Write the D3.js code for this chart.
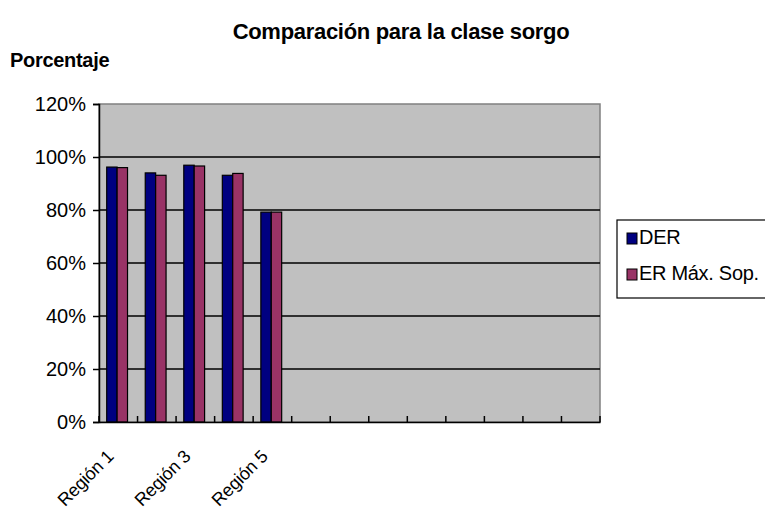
<!DOCTYPE html>
<html>
<head>
<meta charset="utf-8">
<script src="https://cdn.jsdelivr.net/npm/d3@7"></script>
<style>
  body { margin: 0; background: #fff; }
  svg { display: block; font-family: Arial, "Liberation Sans", sans-serif; }
</style>
</head>
<body>
<div id="chart"></div>
<script>
// categories (13 slots on the axis, only the first 5 have data)
const categories = ['Región 1', 'Región 2', 'Región 3', 'Región 4', 'Región 5',
  'c6', 'c7', 'c8', 'c9', 'c10', 'c11', 'c12', 'c13'];
const labelsShown = ['Región 1', 'Región 3', 'Región 5'];
const seriesNames = ['DER', 'ER Máx. Sop.'];
const derValues = [0.962, 0.940, 0.969, 0.931, 0.792];
const erValues = [0.960, 0.931, 0.966, 0.938, 0.792];
const yTicks = [0, 0.2, 0.4, 0.6, 0.8, 1.0, 1.2];
const colors = ['#000080', '#993366'];

const width = 765;
const height = 514;
const margin = { top: 104, right: 165, bottom: 92, left: 99 };
const innerW = width - margin.left - margin.right;
const innerH = height - margin.top - margin.bottom;

const svg = d3.select('#chart').append('svg')
  .attr('width', width)
  .attr('height', height);

const x = d3.scaleBand()
  .domain(categories)
  .range([0, innerW])
  .paddingInner(0)
  .paddingOuter(0);

const x1 = d3.scaleBand()
  .domain(seriesNames)
  .range([x.bandwidth() * 0.2, x.bandwidth() * 0.74]);

const y = d3.scaleLinear()
  .domain([0, 1.2])
  .range([innerH, 0]);

const g = svg.append('g')
  .attr('transform', `translate(${margin.left},${margin.top})`);

// plot background
g.append('rect')
  .attr('width', innerW)
  .attr('height', innerH)
  .attr('fill', '#c0c0c0')
  .attr('stroke', '#808080')
  .attr('stroke-width', 1.5);

// gridlines
g.append('g')
  .selectAll('line')
  .data(yTicks.filter(d => d > 0 && d < 1.2))
  .join('line')
  .attr('x1', 0)
  .attr('x2', innerW)
  .attr('y1', d => y(d))
  .attr('y2', d => y(d))
  .attr('stroke', '#000')
  .attr('stroke-width', 1.5);

// bars
const rows = categories.slice(0, derValues.length).map((c, i) => ({
  cat: c,
  vals: [derValues[i], erValues[i]]
}));

const groups = g.append('g')
  .selectAll('g')
  .data(rows)
  .join('g')
  .attr('transform', d => `translate(${x(d.cat)},0)`);

groups.selectAll('rect')
  .data(d => d.vals.map((v, i) => ({ key: seriesNames[i], v, i })))
  .join('rect')
  .attr('x', d => x1(d.key))
  .attr('width', x1.bandwidth())
  .attr('y', d => y(d.v))
  .attr('height', d => innerH - y(d.v))
  .attr('fill', d => colors[d.i])
  .attr('stroke', '#000')
  .attr('stroke-width', 1.2);

// y axis
const yAxis = g.append('g')
  .call(d3.axisLeft(y)
    .tickValues(yTicks)
    .tickFormat(d3.format('.0%'))
    .tickSize(6)
    .tickPadding(7));
yAxis.select('.domain').attr('stroke', '#000').attr('stroke-width', 1.5);
yAxis.selectAll('.tick line').attr('stroke', '#000').attr('stroke-width', 1.5);
yAxis.selectAll('.tick text')
  .attr('fill', '#000')
  .style('font-size', '20px');

// x axis
const xAxis = g.append('g')
  .attr('transform', `translate(0,${innerH})`)
  .call(d3.axisBottom(x).tickSize(0).tickFormat(''));
xAxis.select('.domain').attr('stroke', '#000').attr('stroke-width', 1.5);

// tick marks between categories (pointing up into plot)
g.append('g')
  .selectAll('line')
  .data(d3.range(categories.length + 1))
  .join('line')
  .attr('x1', i => i * x.step())
  .attr('x2', i => i * x.step())
  .attr('y1', innerH)
  .attr('y2', innerH - 6)
  .attr('stroke', '#000')
  .attr('stroke-width', 1.5);

// rotated category labels
g.append('g')
  .selectAll('text')
  .data(labelsShown)
  .join('text')
  .attr('transform', d => `translate(${x(d) + x.bandwidth() / 2 - 8},${innerH + 31}) rotate(-45)`)
  .attr('text-anchor', 'end')
  .attr('dy', '0.35em')
  .style('font-size', '18px')
  .style('letter-spacing', '-0.2px')
  .text(d => d);

// titles
svg.append('text')
  .attr('x', 401)
  .attr('y', 39)
  .attr('text-anchor', 'middle')
  .style('font-size', '22px')
  .style('font-weight', 'bold')
  .style('letter-spacing', '-0.3px')
  .text('Comparación para la clase sorgo');

svg.append('text')
  .attr('x', 10)
  .attr('y', 67)
  .style('font-size', '20px')
  .style('font-weight', 'bold')
  .style('letter-spacing', '-0.3px')
  .text('Porcentaje');

// legend
const legend = svg.append('g')
  .attr('transform', 'translate(617,220)');

legend.append('rect')
  .attr('width', 160)
  .attr('height', 78)
  .attr('fill', '#fff')
  .attr('stroke', '#000')
  .attr('stroke-width', 1.2);

const items = legend.selectAll('g')
  .data(seriesNames)
  .join('g')
  .attr('transform', (d, i) => `translate(10,${13 + i * 36})`);

items.append('rect')
  .attr('width', 10)
  .attr('height', 11)
  .attr('fill', (d, i) => colors[i])
  .attr('stroke', '#000')
  .attr('stroke-width', 1);

items.append('text')
  .attr('x', 12)
  .attr('y', 11)
  .style('font-size', '20px')
  .style('letter-spacing', '-0.3px')
  .text(d => d);
</script>
</body>
</html>
